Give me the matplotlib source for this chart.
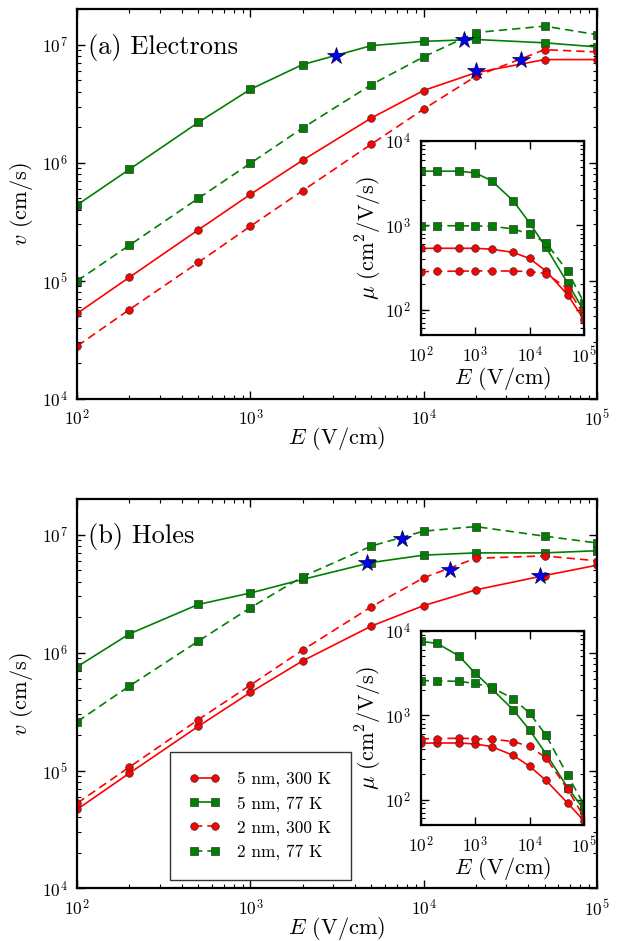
import matplotlib
matplotlib.use("Agg")
import matplotlib.pyplot as plt

plt.rcParams['font.family'] = 'serif'
plt.rcParams['font.serif'] = ['cmr10', 'DejaVu Serif']
plt.rcParams['mathtext.fontset'] = 'cm'
plt.rcParams['axes.formatter.use_mathtext'] = True
plt.rcParams['axes.unicode_minus'] = False

# field values (V/cm)
E = [1e2, 2e2, 5e2, 1e3, 2e3, 5e3, 1e4, 2e4, 5e4, 1e5]

# (a) electrons, drift velocity (cm/s)
ve_5nm_300 = [5.3e4, 1.07e5, 2.7e5, 5.4e5, 1.05e6, 2.4e6, 4.1e6, 5.8e6, 7.5e6, 7.5e6]
ve_5nm_77 = [4.4e5, 8.8e5, 2.2e6, 4.2e6, 6.8e6, 9.85e6, 1.07e7, 1.11e7, 1.04e7, 9.6e6]
ve_2nm_300 = [2.8e4, 5.7e4, 1.43e5, 2.9e5, 5.8e5, 1.44e6, 2.85e6, 5.4e6, 9.1e6, 8.7e6]
ve_2nm_77 = [1.0e5, 2.0e5, 5.0e5, 9.9e5, 1.97e6, 4.6e6, 7.9e6, 1.27e7, 1.44e7, 1.22e7]
# (a) electrons, mobility (cm^2/V/s)
me_5nm_300 = [533, 535, 535, 535, 522, 478, 405, 288, 150, 76]
me_5nm_77 = [4400, 4400, 4400, 4200, 3400, 1960, 1070, 550, 207, 96]
me_2nm_300 = [282, 285, 286, 288, 288, 287, 283, 268, 178, 86]
me_2nm_77 = [985, 990, 990, 985, 975, 910, 785, 625, 285, 121]
# (a) stars
stars_a_E = [3.1e3, 1.71e4, 2.0e4, 3.63e4]
stars_a_v = [8.1e6, 1.1e7, 5.97e6, 7.5e6]

# (b) holes, drift velocity (cm/s)
vh_5nm_300 = [4.7e4, 9.5e4, 2.37e5, 4.6e5, 8.5e5, 1.68e6, 2.5e6, 3.4e6, 4.5e6, 5.5e6]
vh_5nm_77 = [7.6e5, 1.44e6, 2.56e6, 3.2e6, 4.17e6, 5.8e6, 6.7e6, 7.0e6, 7.0e6, 7.3e6]
vh_2nm_300 = [5.3e4, 1.07e5, 2.7e5, 5.3e5, 1.05e6, 2.45e6, 4.3e6, 6.3e6, 6.6e6, 6.0e6]
vh_2nm_77 = [2.6e5, 5.2e5, 1.25e6, 2.4e6, 4.4e6, 8.0e6, 1.07e7, 1.17e7, 9.7e6, 8.5e6]
# (b) holes, mobility (cm^2/V/s)
mh_5nm_300 = [467, 470, 470, 458, 426, 335, 249, 169, 91, 56]
mh_5nm_77 = [7580, 7150, 5100, 3180, 2080, 1165, 670, 350, 139, 76]
mh_2nm_300 = [527, 530, 535, 530, 522, 489, 428, 313, 133, 62]
mh_2nm_77 = [2580, 2580, 2530, 2400, 2150, 1580, 1065, 583, 194, 87]
# (b) stars
stars_b_E = [4.72e3, 7.5e3, 1.42e4, 4.7e4]
stars_b_v = [5.8e6, 9.2e6, 5.0e6, 4.5e6]

labels = ['5 nm, 300 K', '5 nm, 77 K', '2 nm, 300 K', '2 nm, 77 K']
colors = ['red', 'green', 'red', 'green']
markers = ['o', 's', 'o', 's']
dashed = [False, False, True, True]


def draw_series(ax, ys, ms):
    lines = []
    for y, c, m, d, lab in zip(ys, colors, markers, dashed, labels):
        kw = dict(color=c, marker=m, ms=ms, mfc=c, mec='#333333', mew=0.5,
                  lw=1.2, label=lab)
        if d:
            kw['dashes'] = (5, 3)
        ln, = ax.plot(E, y, **kw)
        lines.append(ln)
    return lines


def style_axes(ax, fs):
    ax.set_xscale('log')
    ax.set_yscale('log')
    for s in ax.spines.values():
        s.set_linewidth(1.6)
    ax.tick_params(which='both', direction='in', top=True, right=True,
                   labelsize=fs)
    ax.tick_params(which='major', length=6, width=1.0, pad=7)
    ax.tick_params(which='minor', length=3, width=0.8)


fig = plt.figure(figsize=(6.23, 9.41), dpi=100)

panels = [
    ([ve_5nm_300, ve_5nm_77, ve_2nm_300, ve_2nm_77],
     [me_5nm_300, me_5nm_77, me_2nm_300, me_2nm_77],
     stars_a_E, stars_a_v, '(a) Electrons', 0.5763, 0.644),
    ([vh_5nm_300, vh_5nm_77, vh_2nm_300, vh_2nm_77],
     [mh_5nm_300, mh_5nm_77, mh_2nm_300, mh_2nm_77],
     stars_b_E, stars_b_v, '(b) Holes', 0.0558, 0.1233),
]

for i, (vs, mus, sE, sv, title, y0, iy0) in enumerate(panels):
    ax = fig.add_axes([0.1241, y0, 0.8337, 0.4138])
    lines = draw_series(ax, vs, 5.5)
    ax.plot(sE, sv, ls='none', marker='*', ms=13, color='#0000ee',
            mec='#000044', mew=0.5, zorder=5)
    style_axes(ax, 12.5)
    ax.set_xlim(1e2, 1e5)
    ax.set_ylim(1e4, 2e7)
    ax.set_xlabel('$E$ (V/cm)', fontsize=16, labelpad=-3)
    ax.set_ylabel('$v$ (cm/s)', fontsize=16, labelpad=5)
    ax.text(0.02, 0.903, title, transform=ax.transAxes, fontsize=19,
            va='center', ha='left')

    ins = fig.add_axes([0.6753, iy0, 0.2621, 0.206])
    draw_series(ins, mus, 5.5)
    style_axes(ins, 12.5)
    ins.set_xlim(1e2, 1e5)
    ins.set_ylim(50, 1e4)
    ins.set_xticks([1e2, 1e3, 1e4, 1e5])
    ins.set_xlabel('$E$ (V/cm)', fontsize=16, labelpad=0)
    ins.set_ylabel(r'$\mu$ (cm$^2$/V/s)', fontsize=16, labelpad=1)

    if i == 1:
        leg = ax.legend(handles=lines, loc='lower left',
                        bbox_to_anchor=(0.178, 0.023), borderaxespad=0,
                        fontsize=12.5, numpoints=2, handlelength=1.8,
                        handletextpad=1.0, labelspacing=0.5, borderpad=1.1,
                        fancybox=False, framealpha=1)
        leg.get_frame().set_edgecolor('#333333')
        leg.get_frame().set_linewidth(1.0)

fig.savefig('out.png', dpi=100)
